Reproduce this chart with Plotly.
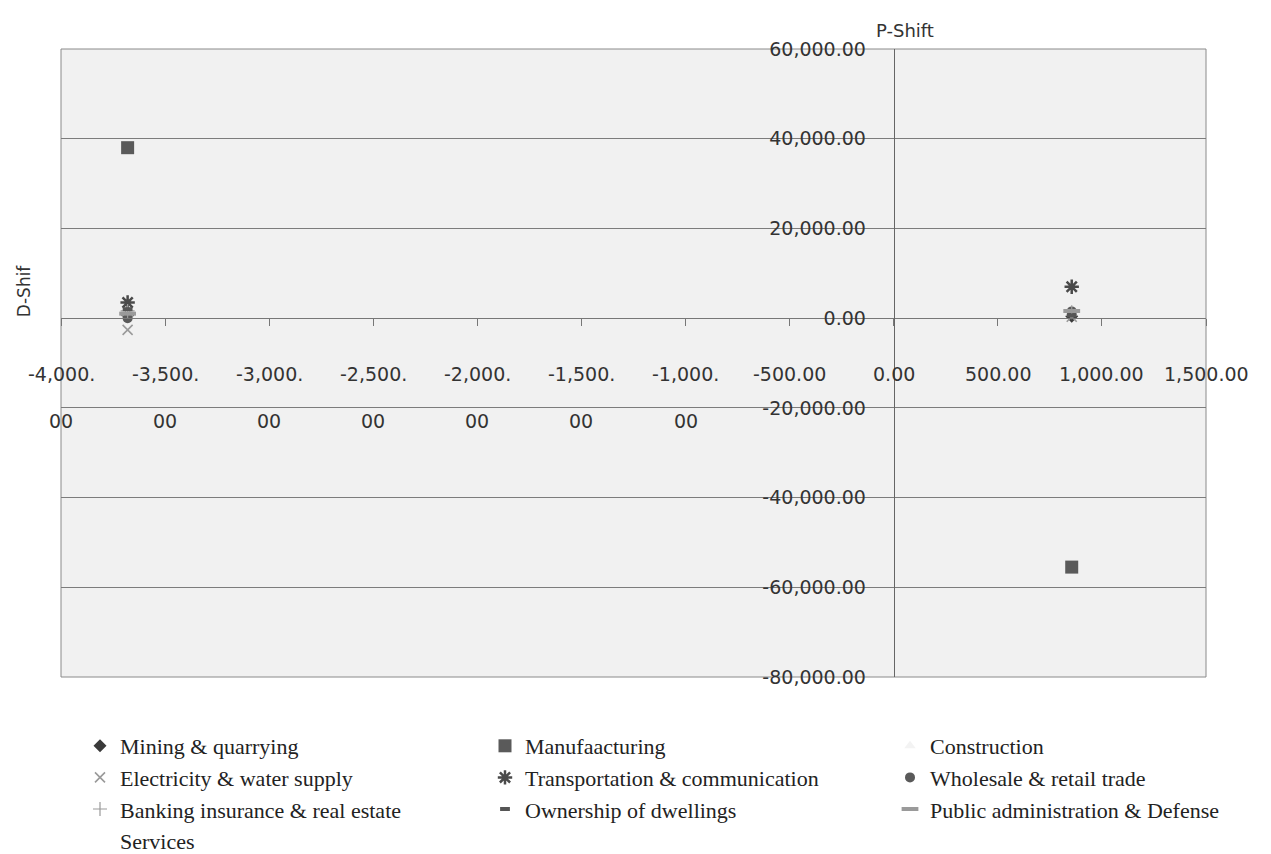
import plotly.graph_objects as go

# ---------------- data ----------------
series_names = [
    "Mining & quarrying", "Manufaacturing", "Construction",
    "Electricity & water supply", "Transportation & communication", "Wholesale & retail trade",
    "Banking insurance & real estate", "Ownership of dwellings", "Public administration & Defense",
    "Services",
]
p_shift = [-3680, 855]          # P-Shift (x) for the two observations
mining = [600, 400]
manufacturing = [38000, -55500]
construction = [900, 1100]
electricity = [-2600, 300]
transport = [3500, 7000]
wholesale = [0, 1500]
banking = [1600, 1300]
ownership = [2000, 600]
public_admin = [1000, 1600]
services = [1200, 2100]
d_shift = [mining, manufacturing, construction, electricity, transport, wholesale,
           banking, ownership, public_admin, services]

x_ticks = [-4000, -3500, -3000, -2500, -2000, -1500, -1000, -500, 0, 500, 1000, 1500]
y_ticks = [-80000, -60000, -40000, -20000, 0, 20000, 40000, 60000]
x_range = [-4000, 1500]
y_range = [-80000, 60000]

# ---------------- styles ----------------
styles = [
    dict(symbol="diamond", size=10, color="#3a3a3a", line=dict(width=0)),
    dict(symbol="square", size=13, color="#5a5a5a", line=dict(width=0)),
    dict(symbol="triangle-up", size=10, color="#f3f3f3", line=dict(width=0)),
    dict(symbol="x-thin-open", size=10, color="#9a9a9a", line=dict(width=1.6, color="#9a9a9a")),
    dict(symbol="asterisk-open", size=12, color="#4a4a4a", line=dict(width=2.5, color="#4a4a4a")),
    dict(symbol="circle", size=10, color="#5a5a5a", line=dict(width=0)),
    dict(symbol="cross-thin-open", size=10, color="#9a9a9a", line=dict(width=1.2, color="#9a9a9a")),
    dict(symbol="line-ew-open", size=7, color="#555555", line=dict(width=4, color="#555555")),
    dict(symbol="line-ew-open", size=12, color="#9a9a9a", line=dict(width=4, color="#9a9a9a")),
    dict(symbol="circle", size=8, color="rgba(0,0,0,0)", line=dict(width=0)),
]
legend_of = ["legend", "legend2", "legend3",
             "legend", "legend2", "legend3",
             "legend", "legend2", "legend3",
             "legend"]

fig = go.Figure()
for name, ys, st, lg in zip(series_names, d_shift, styles, legend_of):
    fig.add_trace(go.Scatter(
        x=p_shift, y=ys, mode="markers", name=name, legend=lg,
        marker=st, showlegend=True,
    ))

# positions of the crossing axes as fractions of the plot area
x_zero_frac = (0 - x_range[0]) / (x_range[1] - x_range[0])
y_zero_frac = (0 - y_range[0]) / (y_range[1] - y_range[0])

tick_font = dict(family="DejaVu Sans", size=19, color="#333333")


def fmt(v):
    return f"{v:,.2f}"


W, H = 1263, 872
ML, MT, PW, PH = 53, 41, 1145, 628
fig.update_layout(
    width=W, height=H,
    margin=dict(l=ML, r=W - ML - PW, t=MT, b=H - MT - PH),
    paper_bgcolor="white",
    plot_bgcolor="#f1f1f1",
    xaxis=dict(
        range=x_range, showgrid=False, zeroline=False,
        anchor="free", position=y_zero_frac,
        showline=True, linecolor="#777777", linewidth=1,
        ticks="outside", ticklen=7, tickcolor="#777777", tickwidth=1,
        tickvals=x_ticks, showticklabels=False,
    ),
    yaxis=dict(
        range=y_range, anchor="free", position=x_zero_frac,
        showline=True, linecolor="#666666", linewidth=1,
        ticks="", tickvals=y_ticks, ticktext=[fmt(v) for v in y_ticks],
        tickfont=tick_font, ticklabelstandoff=24,
        showgrid=True, gridcolor="#7c7c7c", gridwidth=1, zeroline=False,
    ),
    showlegend=True,
)

# plot frame
fig.add_shape(type="rect", xref="paper", yref="paper", x0=0, x1=1, y0=0, y1=1,
              line=dict(color="#8a8a8a", width=1), layer="below")

# x tick labels (wrapped as in the original)
for v in x_ticks:
    s = fmt(v)
    if v <= -1000:
        lines = [s[:-2], s[-2:]]
    else:
        lines = [s]
    for i, t in enumerate(lines):
        fig.add_annotation(x=v, y=0, xref="x", yref="y", text=t, showarrow=False,
                           yshift=-56 - 47 * i, font=tick_font, xanchor="center", yanchor="middle")

# axis titles
fig.add_annotation(x=0, y=1, xref="x", yref="paper", text="P-Shift", showarrow=False,
                   xshift=11, yshift=6, yanchor="bottom",
                   font=dict(family="DejaVu Sans", size=18, color="#333333"))
fig.add_annotation(x=0, y=0, xref="paper", yref="y", text="D-Shif", showarrow=False,
                   textangle=-90, xshift=-49, yshift=27,
                   font=dict(family="DejaVu Sans", size=17, color="#333333"))

legend_common = dict(
    font=dict(family="Liberation Serif", size=22, color="#222222"),
    bgcolor="rgba(0,0,0,0)", orientation="v", yanchor="top", xanchor="left",
    traceorder="grouped", tracegroupgap=4, y=(MT + PH - 717) / PH,
)
fig.update_layout(
    legend=dict(x=(72 - ML) / PW, **legend_common),
    legend2=dict(x=(477 - ML) / PW, **legend_common),
    legend3=dict(x=(882 - ML) / PW, **legend_common),
)

fig.write_html("out.html")
